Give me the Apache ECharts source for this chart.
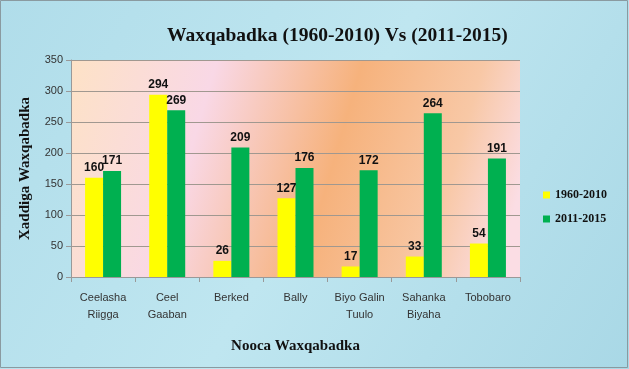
<!DOCTYPE html>
<html><head><meta charset="utf-8">
<script src="https://cdn.jsdelivr.net/npm/echarts@6/dist/echarts.min.js"></script>
<style>html,body{margin:0;padding:0;}#c{width:629px;height:369px;}</style>
</head><body><div id="c"></div>
<script>
const categories = ['Ceelasha\nRiigga','Ceel\nGaaban','Berked','Bally','Biyo Galin\nTuulo','Sahanka\nBiyaha','Tobobaro'];
const series1960 = [160,294,26,127,17,33,54];
const series2011 = [171,269,209,176,172,264,191];
const yTicks = [0,50,100,150,200,250,300,350];

const chart = echarts.init(document.getElementById('c'));
const lbl = {show:true, position:'top', fontFamily:'Liberation Sans', fontWeight:'bold', fontSize:12, color:'#111', distance:4};
chart.setOption({
  animation:false,
  backgroundColor:{type:'linear',x:0,y:0,x2:1,y2:1,colorStops:[{offset:0,color:'#b0ddea'},{offset:0.5,color:'#bfe6f0'},{offset:1,color:'#a9d8e6'}]},
  graphic:[{type:'rect', shape:{x:0.5, y:0.5, width:627, height:367}, style:{fill:'none', stroke:'#8a9aa0', lineWidth:1}, silent:true}],
  title:{text:'Waxqabadka (1960-2010) Vs (2011-2015)', left:162, top:21,
    textStyle:{fontFamily:'Liberation Serif', fontWeight:'bold', fontSize:19.5, color:'#111'}},
  legend:{orient:'vertical', left:538, top:184, itemWidth:7, itemHeight:7, itemGap:12, icon:'rect',
    textStyle:{fontFamily:'Liberation Serif', fontWeight:'bold', fontSize:12, color:'#111'},
    data:['1960-2010','2011-2015']},
  grid:{left:71, right:109, top:60, bottom:92, show:true, borderWidth:0,
    backgroundColor:{type:'linear',x:0,y:0,x2:1,y2:0.6,colorStops:[
      {offset:0,color:'#fde2c6'},{offset:0.3,color:'#f9d8e6'},{offset:0.6,color:'#f6b27c'},{offset:0.85,color:'#f8c8a6'},{offset:1,color:'#fbdde4'}]}},
  xAxis:{type:'category', data:categories,
    name:'Nooca Waxqabadka', nameLocation:'middle', nameGap:62,
    nameTextStyle:{fontFamily:'Liberation Serif', fontWeight:'bold', fontSize:15, color:'#111'},
    axisLine:{lineStyle:{color:'#999'}}, axisTick:{show:true, alignWithLabel:false, lineStyle:{color:'#999'}},
    axisLabel:{fontFamily:'Liberation Sans', fontSize:11, color:'#333', margin:12, lineHeight:17, interval:0}},
  yAxis:{type:'value', min:0, max:350, interval:50,
    name:'Xaddiga Waxqabadka', nameLocation:'middle', nameGap:38,
    nameTextStyle:{fontFamily:'Liberation Serif', fontWeight:'bold', fontSize:15, color:'#111'},
    axisLine:{show:true, lineStyle:{color:'#999'}}, axisTick:{show:true, lineStyle:{color:'#999'}},
    splitLine:{lineStyle:{color:'#a09890'}},
    axisLabel:{fontFamily:'Liberation Sans', fontSize:11, color:'#333', margin:8,
      formatter:v=>yTicks.includes(v)?String(v):''}},
  series:[
    {name:'1960-2010', type:'bar', data:series1960, barWidth:18, barGap:'0%', itemStyle:{color:'#ffff00'}, label:lbl},
    {name:'2011-2015', type:'bar', data:series2011, barWidth:18, itemStyle:{color:'#00b050'}, label:lbl}
  ]
});
</script></body></html>
